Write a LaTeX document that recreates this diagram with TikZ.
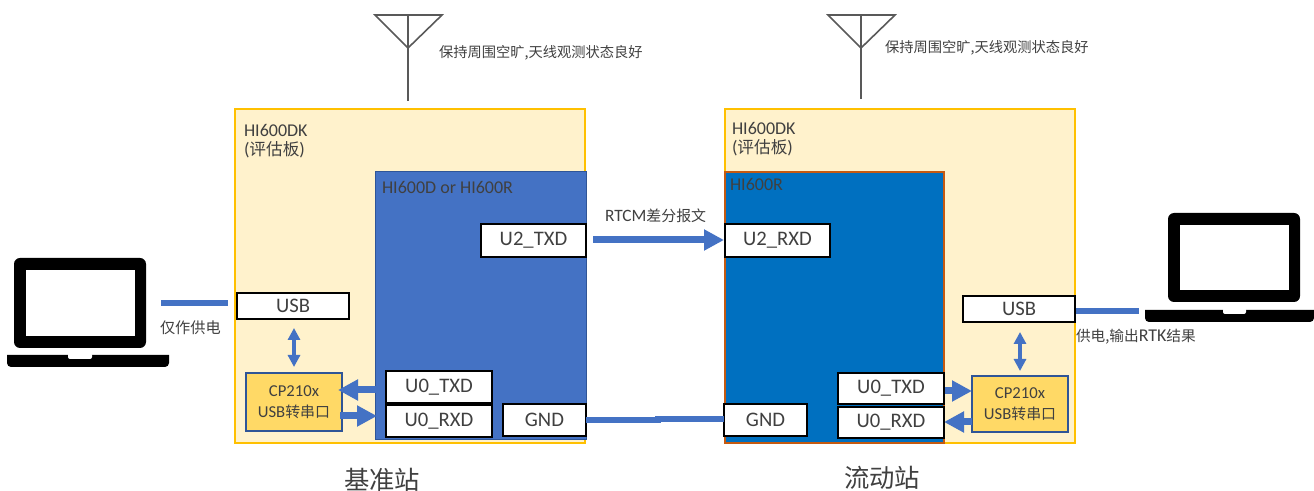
\documentclass[tikz,border=0pt]{standalone}
\usepackage{fontspec}
\setmainfont{Carlito}
\newfontfamily\cjk{Noto Sans CJK SC}
\usetikzlibrary{arrows.meta}
\definecolor{txt}{HTML}{404040}
\definecolor{ablue}{HTML}{4472C4}
\definecolor{boardfill}{HTML}{FFF2CC}
\definecolor{boardb}{HTML}{FFC000}
\definecolor{chipLb}{HTML}{2F5597}
\definecolor{chipRb}{HTML}{C55A11}
\definecolor{chipRf}{HTML}{0070C0}
\definecolor{convf}{HTML}{FFD966}
\definecolor{antc}{HTML}{595959}
\newcommand{\pbox}[5]{\node[#1,minimum width=(#4-#2)*0.75pt,minimum height=(#5-#3)*0.75pt] at ({(#2+#4)/2},{(#3+#5)/2})}
\tikzset{
 x=0.75pt,y=-0.75pt,
 every node/.style={inner sep=0pt,outer sep=0pt,text=txt},
 board/.style={draw=boardb,line width=1.3pt,fill=boardfill,rectangle},
 chipL/.style={draw=chipLb,line width=0.75pt,fill=ablue,rectangle},
 chipR/.style={draw=chipRb,line width=1.1pt,fill=chipRf,rectangle},
 pin/.style={draw=black,line width=1.3pt,fill=white,rectangle,font=\fontsize{15.5}{17}\selectfont},
 conv/.style={draw=chipLb,line width=1.1pt,fill=convf,rectangle,align=center,font=\fontsize{12.5}{16}\selectfont},
 lab/.style={font=\fontsize{10.7}{13}\selectfont\cjk,anchor=west,align=left},
 blab/.style={font=\fontsize{13.5}{14.5}\selectfont,anchor=west,align=left},
 title/.style={font=\fontsize{19}{22}\selectfont\cjk},
 lap/.style={fill=black,rounded corners=4.5pt,rectangle},
 lapin/.style={fill=white,rectangle},
 ant/.style={draw=antc,line width=1.2pt},
 wire/.style={draw=ablue,line width=4.5pt},
 fat/.style={draw=ablue,line width=5.25pt,-{Triangle[length=15pt,width=15pt]}},
 fatb/.style={draw=ablue,line width=3.3pt,{Triangle[length=9pt,width=9pt]}-{Triangle[length=9pt,width=9pt]}},
}
\begin{document}
\begin{tikzpicture}
\useasboundingbox (0,0) rectangle (1314,491);
% boards
\pbox{board}{235}{109}{585}{443} (bl) {};
\pbox{board}{725}{109}{1075}{443} (br) {};
\pbox{chipL}{375}{172}{586}{440} (cl) {};
\pbox{chipR}{725}{172}{944}{443} (cr) {};
% board labels
\node[blab,anchor=north west] (blt) at (244,124) {HI600DK\\({\cjk\fontsize{12.5}{14.5}\selectfont 评估板})};
\node[blab,anchor=north west] (brt) at (732,122) {HI600DK\\({\cjk\fontsize{12.5}{14.5}\selectfont 评估板})};
\node[blab] (clt) at (382,187) {HI600D or HI600R};
\node[blab] (crt) at (730,184) {HI600R};
% laptops
\pbox{lap}{14}{258}{146}{348} (lo) {};
\pbox{lapin}{26}{270}{135}{336} (li) {};
\fill[black,rounded corners=3pt] (169,355) -- (169,367) -- (7,367) [sharp corners] -- (7,355) -- cycle;
\fill[white,rounded corners=1.5pt] (68,353) -- (68,359) -- (92,359) -- (92,353) -- cycle;
\pbox{lap}{1168}{213}{1300}{302} (ro) {};
\pbox{lapin}{1180}{225}{1289}{290} (ri) {};
\fill[black,rounded corners=3pt] (1145,310) -- (1145,322) -- (1314,322) [sharp corners] -- (1314,310) -- cycle;
\fill[white,rounded corners=1.5pt] (1223,308) -- (1223,314) -- (1246,314) -- (1246,308) -- cycle;
% antennas
\coordinate (a1l) at (375,15); \coordinate (a1r) at (442,15); \coordinate (a1t) at (408,15);
\coordinate (a1a) at (408,48); \coordinate (a1b) at (408,101);
\draw[ant,line join=miter] (a1l) -- (a1r) -- (a1a) -- cycle;
\draw[ant] (a1t) -- (a1b);
\coordinate (a2l) at (828,15); \coordinate (a2r) at (895,15); \coordinate (a2t) at (861,15);
\coordinate (a2a) at (861,48); \coordinate (a2b) at (861,99);
\draw[ant,line join=miter] (a2l) -- (a2r) -- (a2a) -- cycle;
\draw[ant] (a2t) -- (a2b);
% connector ends
\coordinate (pl1) at (161,303); \coordinate (pl2) at (228,303);
\coordinate (pr1) at (1075,311); \coordinate (pr2) at (1139,311);
\coordinate (u2a) at (593,240); \coordinate (u2b) at (724,240);
\coordinate (ul1) at (294,328); \coordinate (ul2) at (294,367);
\coordinate (ur1) at (1020,332); \coordinate (ur2) at (1020,371);
\coordinate (tl1) at (376,390); \coordinate (tl2) at (338,390);
\coordinate (rl1) at (340,416); \coordinate (rl2) at (377,416);
\coordinate (tr1) at (944,391); \coordinate (tr2) at (972,391);
\coordinate (rr1) at (972,422); \coordinate (rr2) at (944,422);
\coordinate (gm1) at (658,420.5); \coordinate (gm2) at (658,419.5);
% converters
\pbox{conv}{246}{373}{342}{431} (cvl) {CP210x\\USB{\cjk\fontsize{11.2}{16}\selectfont 转串口}};
\pbox{conv}{972}{376}{1068}{432} (cvr) {CP210x\\USB{\cjk\fontsize{11.2}{16}\selectfont 转串口}};
% connectors
\draw[wire] (pl1) -- (pl2);
\draw[wire] (pr1) -- (pr2);
\draw[fat] (u2a) -- (u2b);
\draw[fatb] (ul1) -- (ul2);
\draw[fatb] (ur1) -- (ur2);
\draw[fat] (tl1) -- (tl2);
\draw[fat] (rl1) -- (rl2);
\draw[fat] (tr1) -- (tr2);
\draw[fat] (rr1) -- (rr2);
% pins
\pbox{pin}{481}{224}{586}{257} (u2t) {U2\_TXD};
\pbox{pin}{725}{224}{830}{257} (u2r) {U2\_RXD};
\pbox{pin}{237}{293}{349}{319} (usbl) {USB};
\pbox{pin}{963}{296}{1075}{322} (usbr) {USB};
\pbox{pin}{386}{371}{492}{403} (t0l) {U0\_TXD};
\pbox{pin}{386}{405}{492}{437} (r0l) {U0\_RXD};
\pbox{pin}{503}{404}{586}{436} (gl) {GND};
\pbox{pin}{838}{373}{944}{404} (t0r) {U0\_TXD};
\pbox{pin}{838}{407}{944}{438} (r0r) {U0\_RXD};
\pbox{pin}{724}{404}{807}{436} (gr) {GND};
\draw[wire] (gl.east |- gm1) -- (gm1) -- (gm2) -- (gr.west |- gm2);
% texts
\node[lab] (n1) at (439,53) {保持周围空旷,天线观测状态良好};
\node[lab] (n2) at (885,47.5) {保持周围空旷,天线观测状态良好};
\node[lab,font=\fontsize{11.2}{13}\selectfont\cjk] (n3) at (605,216) {{\fontsize{13}{13}\selectfont\rmfamily RTCM}差分报文};
\node[lab,font=\fontsize{11.4}{13}\selectfont\cjk] (n4) at (160,328) {仅作供电};
\node[lab,font=\fontsize{11}{13}\selectfont\cjk] (n5) at (1076,337) {供电,输出{\fontsize{13.5}{13}\selectfont\rmfamily RTK}结果};
\node[title] (t1) at (382,480) {基准站};
\node[title] (t2) at (882,478) {流动站};
\end{tikzpicture}
\end{document}
